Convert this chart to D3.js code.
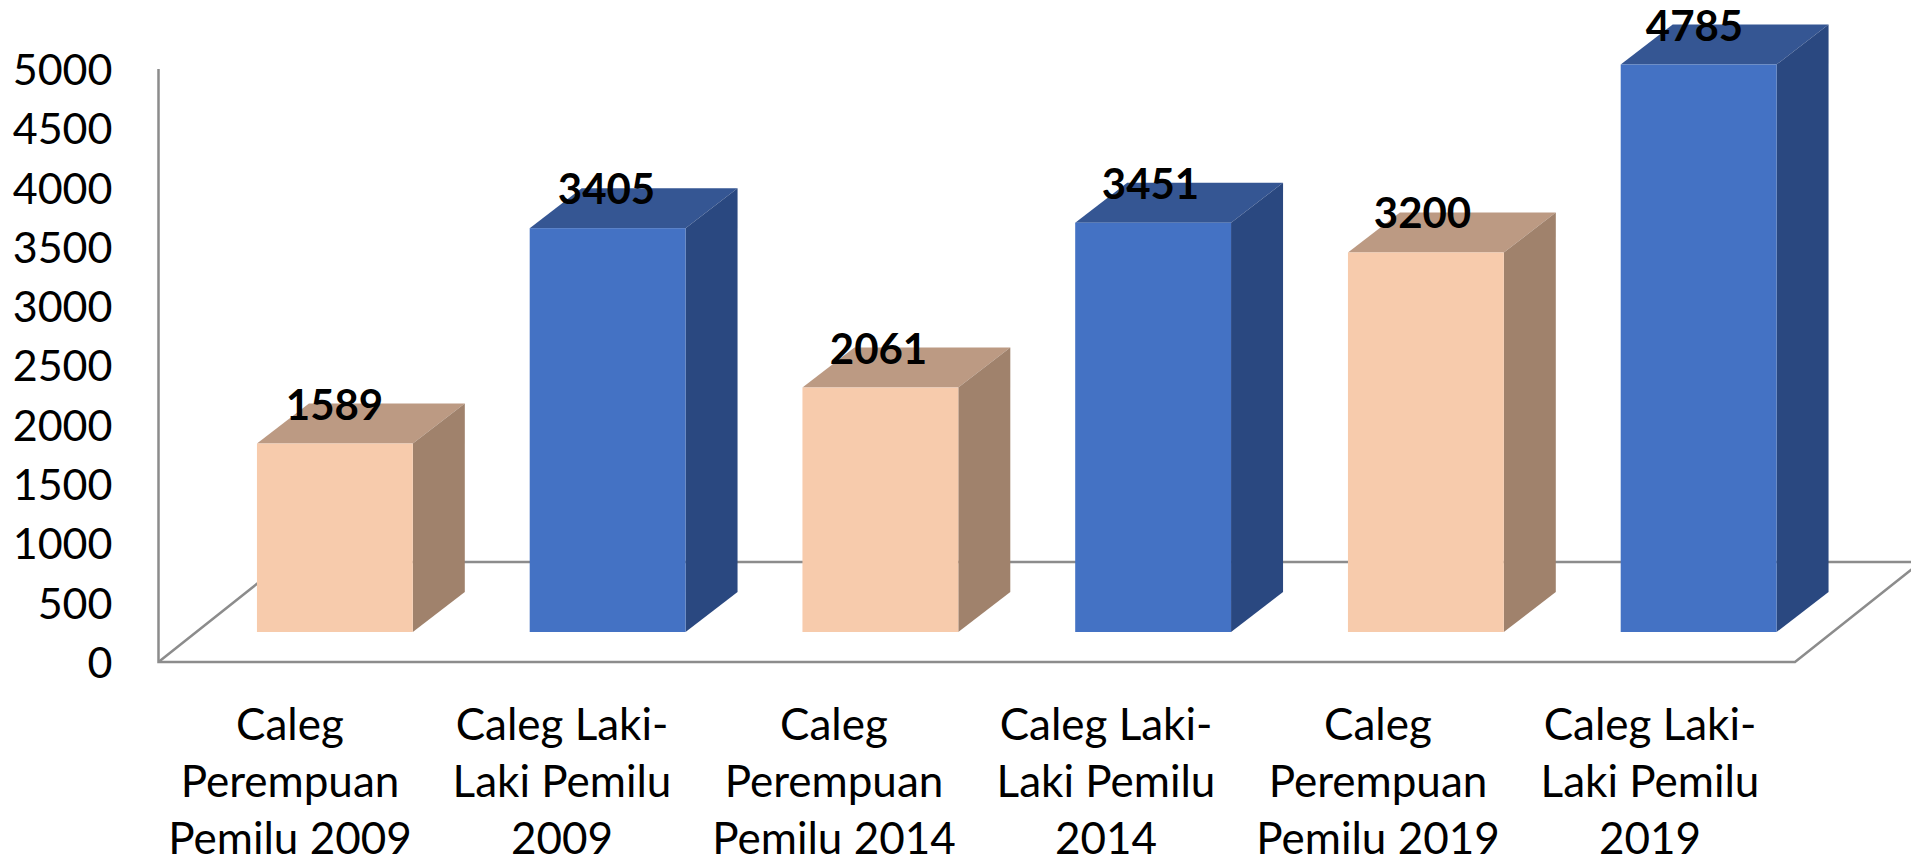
<!DOCTYPE html>
<html><head><meta charset="utf-8">
<script src="https://cdn.jsdelivr.net/npm/d3@7/dist/d3.min.js"></script>
<style>html,body{margin:0;padding:0;background:#fff;overflow:hidden}svg{display:block}text{font-family:Lato,"Open Sans",sans-serif;fill:#000}</style>
</head><body><svg id="c" width="1911" height="862"></svg>
<script>
const categories=[["Caleg","Perempuan","Pemilu 2009"],["Caleg Laki-","Laki Pemilu","2009"],["Caleg","Perempuan","Pemilu 2014"],["Caleg Laki-","Laki Pemilu","2014"],["Caleg","Perempuan","Pemilu 2019"],["Caleg Laki-","Laki Pemilu","2019"]];
const values=[1589,3405,2061,3451,3200,4785];
const genders=["f","m","f","m","f","m"];
const yTicks=[0,500,1000,1500,2000,2500,3000,3500,4000,4500,5000];
const palette={f:{front:"#F7CBAC",top:"#BC9A83",side:"#A0826C"},m:{front:"#4472C4",top:"#355693",side:"#2A4880"}};

const svg=d3.select("#c");
const y=d3.scaleLinear().domain([0,5000]).range([662,69]);
const x=d3.scaleBand().domain(d3.range(6)).range([158.5,1795]).paddingInner(0.4286).paddingOuter(0.2143);
const lx=d3.scaleBand().domain(d3.range(6)).range([154,1786]);
const dx=52,dy=40,lift=30,shift=40;
const wallX=x.range()[0]+126, wallY=y(0)-100;
const axisCol="#8c8c8c";
// floor and walls
const g0=svg.append("g").attr("fill","none").attr("stroke",axisCol).attr("stroke-width",2.5);
g0.append("path").attr("d",`M${x.range()[0]},${y(5000)}V${y(0)}H${x.range()[1]}L${x.range()[1]+126},${wallY}`);
g0.append("path").attr("d",`M${x.range()[0]},${y(0)}L${wallX},${wallY}H1911`);
// y axis labels
const ax=svg.append("g").attr("transform",`translate(${x.range()[0]},0)`).call(d3.axisLeft(y).tickValues(yTicks).tickFormat(d3.format("d")).tickSize(0));
ax.select(".domain").remove();
ax.selectAll("text").attr("font-size",43).attr("font-family","Lato").attr("fill","#000").attr("text-anchor","end").attr("dy","0.36em").attr("x",-46);
// bars
const bars=svg.append("g").selectAll("g").data(values).join("g");
const L=(d,i)=>x(i)+shift, W=x.bandwidth(), B=y(0)-lift, T=d=>y(d)-lift;
bars.append("path").attr("fill",(d,i)=>palette[genders[i]].top)
 .attr("d",(d,i)=>`M${L(d,i)},${T(d)}l${dx},${-dy}h${W}l${-dx},${dy}Z`);
bars.append("path").attr("fill",(d,i)=>palette[genders[i]].side)
 .attr("d",(d,i)=>`M${L(d,i)+W},${T(d)}l${dx},${-dy}V${B-dy}l${-dx},${dy}Z`);
bars.append("rect").attr("fill",(d,i)=>palette[genders[i]].front)
 .attr("x",(d,i)=>L(d,i)).attr("y",d=>T(d)).attr("width",W).attr("height",d=>B-T(d));
// value labels
svg.append("g").selectAll("text").data(values).join("text")
 .attr("x",(d,i)=>lx(i)+lx.bandwidth()/2+44.5).attr("y",d=>T(d)-24)
 .attr("text-anchor","middle").attr("font-size",42).attr("font-weight",700).text(d=>d);
// category labels
const cat=svg.append("g").selectAll("text").data(categories).join("text")
 .attr("text-anchor","middle").attr("font-size",44);
cat.selectAll("tspan").data((d,i)=>d.map(s=>({s,i}))).join("tspan")
 .attr("x",d=>lx(d.i)+lx.bandwidth()/2).attr("y",(d,k)=>740+k*57).text(d=>d.s);
</script></body></html>
